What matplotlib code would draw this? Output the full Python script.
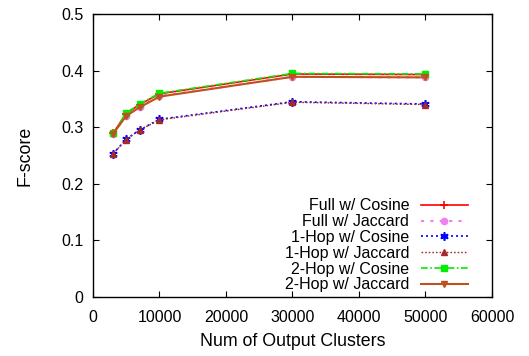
import matplotlib
matplotlib.use("Agg")
import matplotlib.pyplot as plt

plt.rcParams['font.family'] = ['Liberation Sans', 'DejaVu Sans']

clusters = [3000, 5000, 7000, 10000, 30000, 50000]

full_cos = [0.289, 0.324, 0.340, 0.359, 0.394, 0.393]
full_jac = [0.288, 0.320, 0.336, 0.355, 0.389, 0.388]
hop1_cos = [0.253, 0.279, 0.295, 0.314, 0.345, 0.341]
hop1_jac = [0.253, 0.278, 0.295, 0.313, 0.344, 0.340]
hop2_cos = [0.289, 0.325, 0.341, 0.360, 0.395, 0.394]
hop2_jac = [0.288, 0.320, 0.335, 0.354, 0.389, 0.388]

labels = ["Full w/ Cosine", "Full w/ Jaccard", "1-Hop w/ Cosine",
          "1-Hop w/ Jaccard", "2-Hop w/ Cosine", "2-Hop w/ Jaccard"]

fig = plt.figure(figsize=(5.29, 3.56), dpi=100)
ax = fig.add_axes([0.1758, 0.1657, 0.7542, 0.795])

ax.plot(clusters, full_cos, color="#ff0000", ls="-", lw=1.2, marker="+", ms=6, mew=1.2, label=labels[0])
ax.plot(clusters, full_jac, color="#ee82ee", ls=(0, (1.5, 3)), lw=1.5, marker="o", ms=4.5, label=labels[1])
ax.plot(clusters, hop1_cos, color="#0000ff", ls=(0, (1.2, 1.8)), lw=1.2, marker=(6, 2, 0), ms=6, mew=1.2, label=labels[2])
ax.plot(clusters, hop1_jac, color="#a52a2a", ls=(0, (1.2, 1.4)), lw=1.0, marker="^", ms=4.5, label=labels[3])
ax.plot(clusters, hop2_cos, color="#00ee00", ls=(0, (4, 1.5, 1, 1.5)), lw=1.2, marker="s", ms=5, label=labels[4])
ax.plot(clusters, hop2_jac, color="#c0501e", ls="-", lw=1.5, marker="v", ms=5, label=labels[5])

ax.set_xlim(0, 60000)
ax.set_ylim(0, 0.5)
ax.set_xticks(range(0, 60001, 10000))
ax.set_yticks([0, 0.1, 0.2, 0.3, 0.4, 0.5])
ax.set_yticklabels(["0", "0.1", "0.2", "0.3", "0.4", "0.5"])
ax.tick_params(direction="in", top=True, right=True, length=4, width=0.8,
               labelsize=11.5)
ax.tick_params(axis="x", pad=9)
ax.tick_params(axis="y", pad=7)
for sp in ax.spines.values():
    sp.set_linewidth(1.0)

ax.set_xlabel("Num of Output Clusters", fontsize=12.8, labelpad=6)
ax.set_ylabel("F-score", fontsize=12.8, labelpad=20)

leg = ax.legend(loc="lower right", frameon=False, markerfirst=False,
                fontsize=11.5, handlelength=2.9, handletextpad=0.75,
                labelspacing=0.05, borderaxespad=0.0, bbox_to_anchor=(0.955, -0.006))

fig.savefig("out.png", dpi=100)
